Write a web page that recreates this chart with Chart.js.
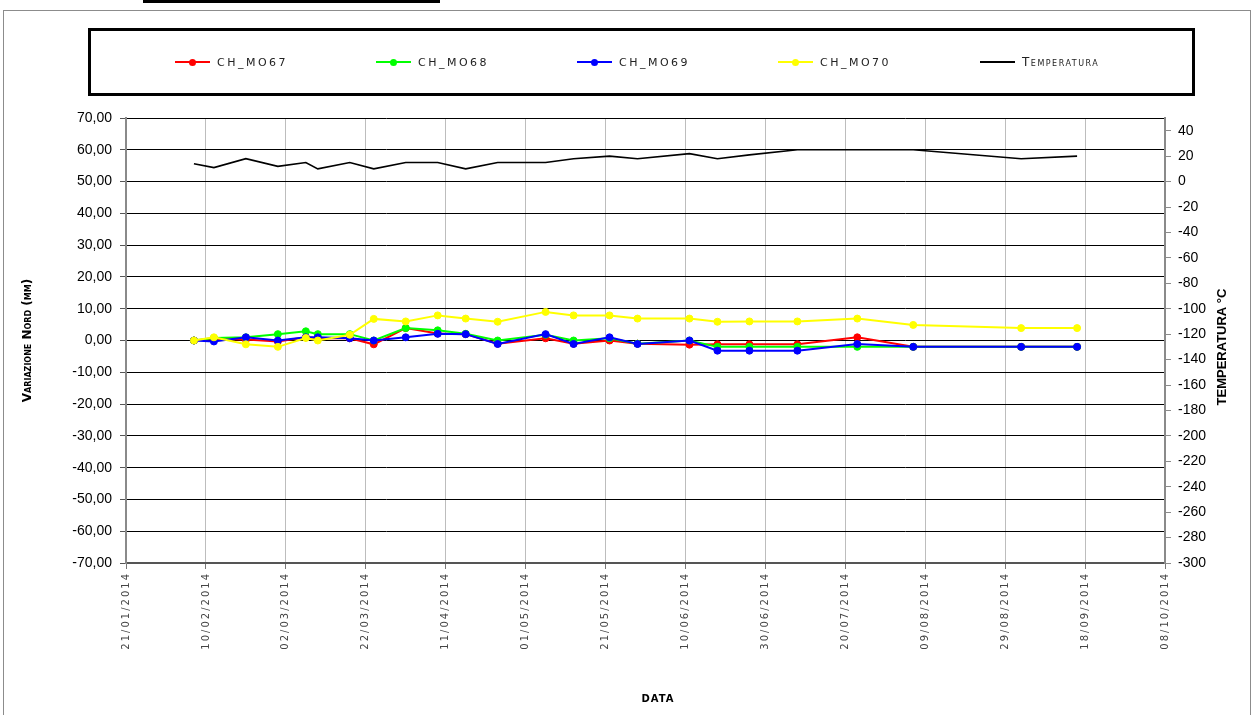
<!DOCTYPE html>
<html>
<head>
<meta charset="utf-8">
<script src="https://cdn.jsdelivr.net/npm/chart.js@4.4.1/dist/chart.umd.min.js"></script>
<style>
  html, body { margin: 0; padding: 0; background: #fff; }
  #wrap { position: relative; width: 1257px; height: 715px; overflow: hidden; }
  #frame { position: absolute; left: 3px; top: 10px; width: 1248px; height: 712px; border: 1px solid #8c8c8c; box-sizing: border-box; }
  #topbar { position: absolute; left: 143px; top: 0; width: 297px; height: 3px; background: #000; }
  #legend { position: absolute; left: 88px; top: 28px; width: 1107px; height: 68px; border: 3px solid #000; box-sizing: border-box; }
  .item { position: absolute; top: 0; height: 62px; display: flex; align-items: center; font: 11px "DejaVu Sans"; letter-spacing: 2.5px; color: #222; white-space: nowrap; }
  .mark { position: relative; width: 35px; height: 2px; margin-right: 7px; }
  .dot { position: absolute; left: 14px; top: -2.5px; width: 7px; height: 7px; border-radius: 50%; }
  .caps { font-variant: small-caps; font-size: 12px; letter-spacing: 1.5px; }
  canvas { position: absolute; left: 0; top: 0; }
</style>
</head>
<body>
<div id="wrap">
  <canvas id="chart" width="1257" height="715"></canvas>
  <div id="frame"></div>
  <div id="topbar"></div>
  <div id="legend"></div>
</div>
<script>
// x axis runs from START to END, one tick every 20 days
const START = '21/01/2014';
const END = '08/10/2014';
const TICK_DAYS = 20;

// survey dates
const dates = ['07/02/2014', '12/02/2014', '20/02/2014', '28/02/2014', '07/03/2014', '10/03/2014',
    '18/03/2014', '24/03/2014', '01/04/2014', '09/04/2014', '16/04/2014', '24/04/2014',
    '06/05/2014', '13/05/2014', '22/05/2014', '29/05/2014', '11/06/2014', '18/06/2014',
    '26/06/2014', '08/07/2014', '23/07/2014', '06/08/2014', '02/09/2014', '16/09/2014'];

// Variazione Nord (mm)
const mo67 = [0, 0.5, 0.3, -0.3, 1.0, 0.7, 0.7, -1.2, 3.9, 2.2, 2.0, -1.0,
    0.7, -1.0, 0.0, -1.0, -1.3, -1.2, -1.2, -1.2, 1.0, -2.0, -2.0, -2.0];
const mo68 = [0, 0.8, 1.0, 2.0, 2.9, 2.0, 2.0, 0.0, 3.9, 3.2, 2.1, 0.0,
    1.8, 0.0, 0.7, -1.0, 0.0, -2.0, -2.0, -2.0, -2.0, -2.0, -2.0, -2.0];
const mo69 = [0, -0.3, 1.0, 0.0, 1.0, 1.0, 0.7, 0.0, 1.0, 2.1, 2.0, -1.1,
    2.0, -1.1, 1.0, -1.1, 0.0, -3.2, -3.2, -3.2, -1.1, -2.0, -2.0, -2.0];
const mo70 = [0, 1.0, -1.2, -2.0, 0.8, 0.0, 1.8, 6.8, 6.0, 7.9, 6.9, 5.9,
    9.0, 7.9, 7.9, 6.9, 6.9, 5.9, 6.0, 6.0, 6.9, 4.9, 3.9, 3.9];

// Temperatura (°C), right axis
const temperatura = [14, 11, 18, 12, 15, 10, 15, 10, 15, 15, 10, 15,
    15, 18, 20, 18, 22, 18, 21, 25, 25, 25, 18, 20];

const seriesNames = ['CH_MO67', 'CH_MO68', 'CH_MO69', 'CH_MO70', 'Temperatura'];
const seriesColors = ['#ff0000', '#00ff00', '#0000ff', '#ffff00', '#000000'];

// axis ranges
const leftMin = -70, leftMax = 70, leftStep = 10;
const rightMin = -300, rightMax = 50, rightStep = 20;

const DAY = 86400000;
function parseDate(s) {
    const [d, m, y] = s.split('/').map(Number);
    return Date.UTC(y, m - 1, d);
}
const startMs = parseDate(START);
const toDay = s => Math.round((parseDate(s) - startMs) / DAY);
const pad = n => String(n).padStart(2, '0');
function dayLabel(v) {
    const dt = new Date(startMs + v * DAY);
    return pad(dt.getUTCDate()) + '/' + pad(dt.getUTCMonth() + 1) + '/' + dt.getUTCFullYear();
}

const days = dates.map(toDay);
const points = arr => arr.map((v, i) => ({ x: days[i], y: v }));

// legend (drawn as html because of the framed box)
const legendLeft = [84, 285, 486, 687, 889];
const legend = document.getElementById('legend');
seriesNames.forEach((name, i) => {
    const item = document.createElement('div');
    item.className = 'item';
    item.style.left = legendLeft[i] + 'px';
    const mark = document.createElement('div');
    mark.className = 'mark';
    mark.style.background = seriesColors[i];
    if (i < 4) {
        const dot = document.createElement('div');
        dot.className = 'dot';
        dot.style.background = seriesColors[i];
        mark.appendChild(dot);
    }
    const label = document.createElement('span');
    label.textContent = name;
    if (i === 4) label.className = 'caps';
    item.appendChild(mark);
    item.appendChild(label);
    legend.appendChild(item);
});

// spaced-out date labels on the x axis, plus the two titles Chart.js can't place
const extras = {
    id: 'extras',
    afterDatasetsDraw(chart) {
        chart.ctx.letterSpacing = '2px';
    },
    afterDraw(chart) {
        const ctx = chart.ctx;
        ctx.save();
        ctx.letterSpacing = '0px';
        ctx.fillStyle = '#000';
        ctx.textAlign = 'center';
        ctx.textBaseline = 'middle';
        ctx.font = 'bold 13px "Liberation Sans", Arial';
        ctx.translate(1222, 347);
        ctx.rotate(-Math.PI / 2);
        ctx.fillText('TEMPERATURA °C', 0, 0);
        ctx.restore();

        ctx.save();
        ctx.letterSpacing = '1px';
        ctx.fillStyle = '#000';
        ctx.textAlign = 'center';
        ctx.textBaseline = 'middle';
        ctx.font = 'bold 10px "DejaVu Sans"';
        ctx.fillText('DATA', 658, 699);
        ctx.restore();
        ctx.letterSpacing = '0px';
    }
};

const mmSet = (label, data, color, order) => ({
    label, data: points(data), yAxisID: 'y', order,
    borderColor: color, backgroundColor: color,
    pointBackgroundColor: color, pointBorderColor: color,
    borderWidth: 2, pointRadius: 3.5, pointBorderWidth: 1, tension: 0
});

new Chart(document.getElementById('chart'), {
    type: 'line',
    data: {
        datasets: [
            mmSet(seriesNames[0], mo67, seriesColors[0], 4),
            mmSet(seriesNames[1], mo68, seriesColors[1], 3),
            mmSet(seriesNames[2], mo69, seriesColors[2], 2),
            mmSet(seriesNames[3], mo70, seriesColors[3], 1),
            {
                label: seriesNames[4], data: points(temperatura), yAxisID: 'y1', order: 5,
                borderColor: seriesColors[4], borderWidth: 1.6, pointRadius: 0, tension: 0
            }
        ]
    },
    options: {
        responsive: false,
        animation: false,
        events: [],
        layout: { padding: { top: 118, left: 0, right: 0, bottom: 0 } },
        plugins: { legend: { display: false }, tooltip: { enabled: false } },
        scales: {
            x: {
                type: 'linear',
                min: 0,
                max: toDay(END),
                afterFit: s => { s.height = 152; },
                grid: { color: '#bdbdbd', lineWidth: 1, tickLength: 6, tickColor: '#777' },
                border: { color: '#555', width: 2 },
                ticks: {
                    stepSize: TICK_DAYS,
                    autoSkip: false,
                    minRotation: 90,
                    maxRotation: 90,
                    padding: 3,
                    z: 1,
                    color: '#444',
                    font: { family: '"DejaVu Sans"', size: 10 },
                    callback: v => dayLabel(v)
                }
            },
            y: {
                position: 'left',
                min: leftMin,
                max: leftMax,
                afterFit: s => { s.width = 126; },
                grid: { color: '#000', lineWidth: 1, tickLength: 6, tickColor: '#555' },
                border: { color: '#8a8a8a', width: 2 },
                ticks: {
                    stepSize: leftStep,
                    padding: 8,
                    color: '#000',
                    font: { family: '"Liberation Sans", Arial', size: 14 },
                    callback: v => v.toFixed(2).replace('.', ',')
                },
                title: {
                    display: true,
                    text: 'Variazione Nord (mm)',
                    color: '#000',
                    padding: { top: 21, bottom: 0 },
                    font: { family: '"DejaVu Sans"', size: 12, weight: 'small-caps bold' }
                }
            },
            y1: {
                position: 'right',
                min: rightMin,
                max: rightMax,
                afterFit: s => { s.width = 92; },
                grid: { drawOnChartArea: false, tickLength: 6, tickColor: '#8a8a8a' },
                border: { color: '#8a8a8a', width: 2 },
                ticks: {
                    stepSize: rightStep,
                    includeBounds: false,
                    padding: 7,
                    color: '#000',
                    font: { family: '"Liberation Sans", Arial', size: 14 }
                }
            }
        }
    },
    plugins: [extras]
});
</script>
</body>
</html>
